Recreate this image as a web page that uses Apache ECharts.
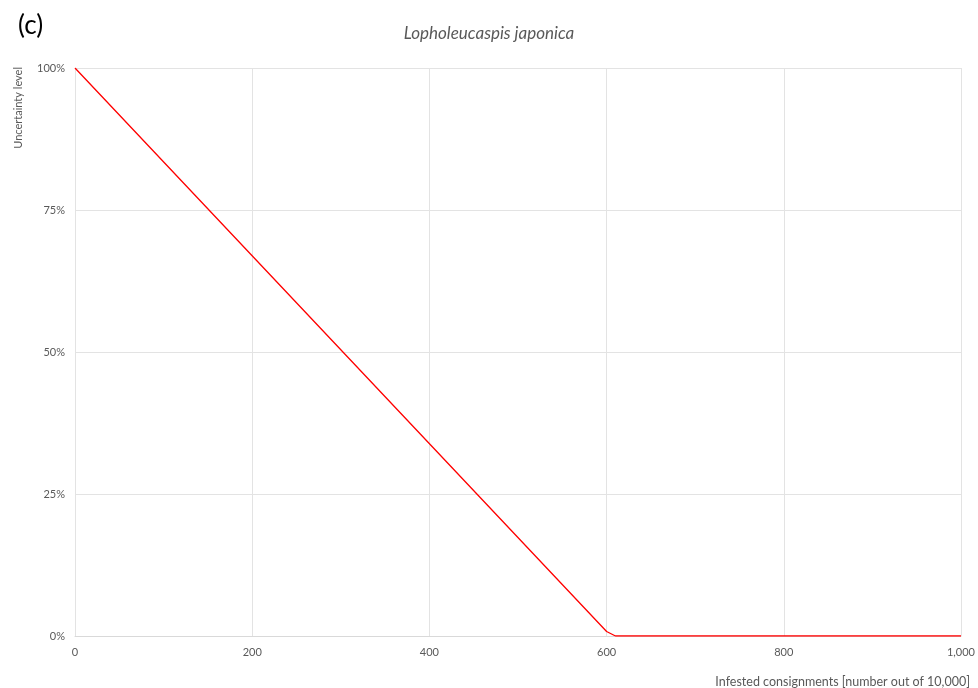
<!DOCTYPE html>
<html><head><meta charset="utf-8">
<script src="https://cdn.jsdelivr.net/npm/echarts@6/dist/echarts.min.js"></script>
<style>html,body{margin:0;padding:0;background:#fff}#c{width:978px;height:688px}</style>
</head><body><div id="c"></div>
<script>
const xValues = [0, 600, 610, 1000];
const yValues = [100, 0.8, 0, 0];
const yTicks = [0, 25, 50, 75, 100];
const xTicks = [0, 200, 400, 600, 800, 1000];
const panelLabel = '(c)';
const chartTitle = 'Lopholeucaspis japonica';
const xName = 'Infested consignments [number out of 10,000]';
const yName = 'Uncertainty level';

const font = 'Lato, "Open Sans", sans-serif';
const chart = echarts.init(document.getElementById('c'));
chart.setOption({
  animation: false,
  backgroundColor: '#fff',
  title: [
    {text: panelLabel, left: 13, top: 8, textStyle: {fontFamily: font, fontSize: 26, fontWeight: 'normal', color: '#000'}},
    {text: chartTitle, left: 'center', top: 20, textStyle: {fontFamily: font, fontSize: 17, fontStyle: 'italic', fontWeight: 'normal', color: '#595959'}}
  ],
  grid: {left: 75, right: 13, top: 68, bottom: 52, containLabel: false},
  xAxis: {
    type: 'value', min: 0, max: 1000, interval: 200,
    axisLine: {show: true, lineStyle: {color: '#d9d9d9'}},
    axisTick: {show: false},
    splitLine: {show: true, lineStyle: {color: '#e3e3e3'}},
    axisLabel: {color: '#595959', fontFamily: font, fontSize: 11, margin: 11,
      formatter: v => v.toLocaleString('en-US')}
  },
  yAxis: {
    type: 'value', min: 0, max: 100, interval: 25,
    axisLine: {show: false},
    axisTick: {show: false},
    splitLine: {show: true, lineStyle: {color: '#e3e3e3'}},
    axisLabel: {color: '#595959', fontFamily: font, fontSize: 11, margin: 10,
      formatter: v => v + '%'}
  },
  graphic: [
    {type: 'text', x: 18, y: 67, rotation: Math.PI / 2, originX: 0, originY: 0,
      style: {text: yName, fill: '#595959', font: '11px ' + font, textAlign: 'right', textVerticalAlign: 'middle'}},
    {type: 'text', right: 8, top: 675,
      style: {text: xName, fill: '#595959', font: '12.5px ' + font}}
  ],
  series: [{
    type: 'line',
    data: xValues.map((x, i) => [x, yValues[i]]),
    showSymbol: false,
    lineStyle: {color: '#ff0000', width: 1.3},
    itemStyle: {color: '#ff0000'}
  }]
});
</script></body></html>
